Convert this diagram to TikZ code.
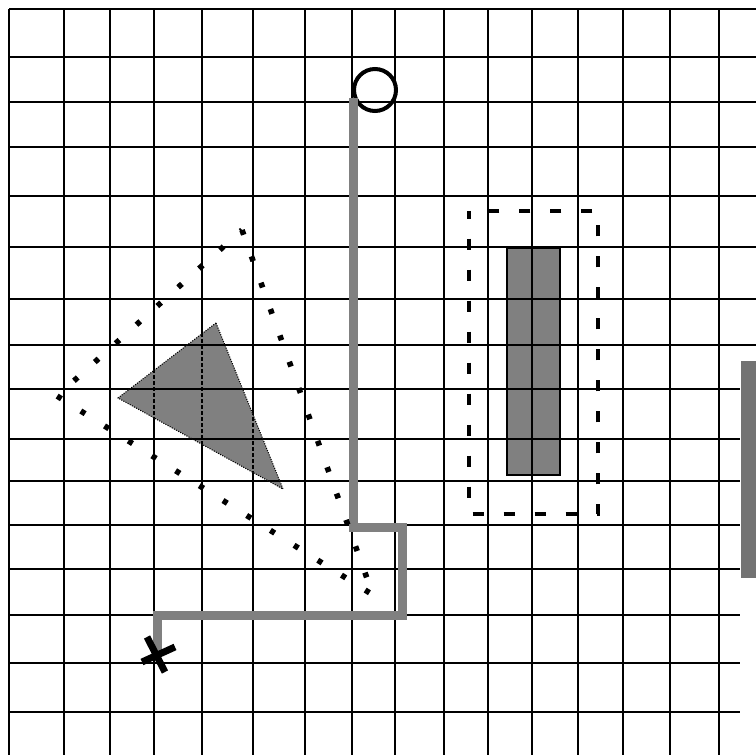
\documentclass[tikz,border=0pt]{standalone}
\usepackage{tikz}
\usetikzlibrary{positioning,calc}
\definecolor{midgray}{HTML}{808080}
\definecolor{wallgray}{HTML}{737373}

\begin{document}
\begin{tikzpicture}[
  x=0.75pt,y=-0.75pt,
  gridline/.style={line width=1.5pt,draw=black},
  obstacle/.style={fill=midgray,draw=black,line width=0.8pt},
  margin/.style={line width=3pt,dash pattern=on 8.25pt off 15pt,dash phase=2.6pt},
  hull/.style={line width=4.2pt,dash pattern=on 3.8pt off 17.2pt},
  route/.style={draw=midgray,line width=6.75pt},
  startmark/.style={circle,draw=black,line width=3pt,minimum size=31.5pt,inner sep=0pt},
  goalmark/.style={line width=5.2pt,draw=black}
]
  \useasboundingbox (0,0) rectangle (756,755);
  \coordinate (t1) at (216,323);
  \coordinate (t2) at (118,398);
  \coordinate (t3) at (283,489);
  \coordinate (h1) at (57,396);
  \coordinate (h2) at (242,230);
  \coordinate (h3) at (373,595);
  \coordinate (w2) at (402,527);
  \coordinate (w3) at (402,615);
  \coordinate (w4) at (157,615);
  \coordinate (goal) at (157,655);

  \draw[obstacle] (507,248) rectangle (560,475);
  \foreach \x in {9,64,110,154,202,253,305,352,395,444,488,532,578,623,670,719}
    \draw[gridline] (\x,9) -- (\x,755);
  \foreach \y in {9,57,102,147,196,247,299,345}
    \draw[gridline] (9,\y) -- (756,\y);
  \foreach \y in {389,439,481,525,569,615,663,712}
    \draw[gridline] (9,\y) -- (740,\y);

  \fill[midgray] (t1) -- (t2) -- (t3) -- cycle;
  \begin{scope}
    \clip (t1) -- (t2) -- (t3) -- cycle;
    \foreach \y in {345,389,439,481}
      \draw[gridline] (9,\y) -- (740,\y);
    \foreach \x in {110,154,202,253}
      \draw[gridline,line width=1pt,dash pattern=on 3pt off 1.5pt] (\x,9) -- (\x,755);
  \end{scope}
  \draw[densely dotted,line width=0.8pt] (t1) -- (t2) -- (t3) -- cycle;

  \fill[wallgray] (741,361) rectangle (757,578);

  \node[startmark] (start) at (375,90) {};
  \draw[route] (start.200) |- (w2) -- (w3) -- (w4) -- (goal);
  \draw[goalmark] ($(goal)+(-10,-18)$) -- ($(goal)+(8,17)$);
  \draw[goalmark] ($(goal)+(-15,7)$) -- ($(goal)+(18,-8)$);

  \draw[margin] (469,211) rectangle (598,514);
  \draw[hull] (h2) -- (h3) -- (h1) -- cycle;
\end{tikzpicture}
\end{document}
